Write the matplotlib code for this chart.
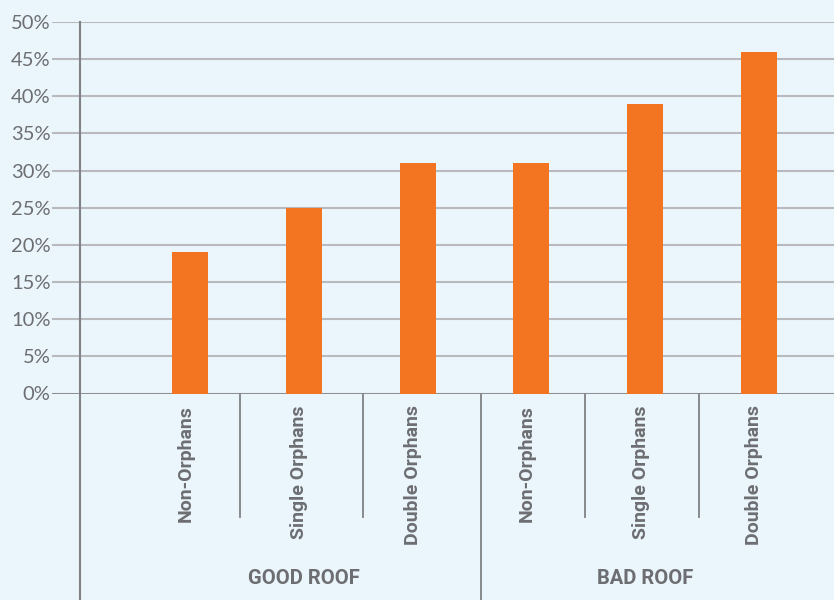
import matplotlib
matplotlib.use("Agg")
import matplotlib.pyplot as plt

# Data
groups = ["GOOD ROOF", "BAD ROOF"]
categories = ["Non-Orphans", "Single Orphans", "Double Orphans"]
good_roof = [19, 25, 31]
bad_roof = [31, 39, 46]
yticks = [0, 5, 10, 15, 20, 25, 30, 35, 40, 45, 50]

bg = "#EAF5FC"
orange = "#F47521"
grid_col = "#B9BABE"
axis_col = "#808285"
text_col = "#6D6E71"

values = good_roof + bad_roof
labels = categories + categories
pos = list(range(len(values)))

fig = plt.figure(figsize=(8.34, 6), dpi=100, facecolor=bg)
ax = fig.add_axes([52 / 834, (600 - 393.5) / 600, 782 / 834, 371.5 / 600])
ax.set_facecolor(bg)

ax.bar(pos, values, width=0.316, color=orange, zorder=3)

ax.set_xlim(-1.2127, 5.659)
ax.set_ylim(0, 50)
ax.set_yticks(yticks)
ax.set_yticklabels([f"{t}%" for t in yticks], family="Lato", fontsize=14.5,
                   color=text_col)
ax.tick_params(axis="y", length=0, pad=1)
ax.set_xticks([])
for s in ax.spines.values():
    s.set_visible(False)
ax.yaxis.grid(True, color=grid_col, lw=1.5, zorder=1)
ax.axhline(0, color=axis_col, lw=1.8, zorder=2)

trans = ax.get_xaxis_transform()
# left axis line, running below the plot
ax.plot([-0.967, -0.967], [1.0, -0.556], color=axis_col, lw=1.5,
        transform=trans, clip_on=False, zorder=4)
# category separators
short_sep = [0.439, 1.520, 3.471, 4.473]
for x in short_sep:
    ax.plot([x, x], [0, -0.332], color=axis_col, lw=1.3,
            transform=trans, clip_on=False)
ax.plot([2.557, 2.557], [0, -0.556], color=axis_col, lw=1.3,
        transform=trans, clip_on=False)

for p, lab in zip(pos, labels):
    ax.text(p - 0.04, -0.031, lab, rotation=90, ha="center", va="top",
            transform=trans, family="Roboto", fontweight="bold",
            fontsize=14, color=text_col)

for g, center in zip(groups, [1, 4]):
    ax.text(center, -0.499, g, ha="center", va="center", transform=trans,
            family="Roboto", fontweight="bold", fontsize=14.5, color=text_col)

fig.savefig("out.png", dpi=100, facecolor=bg)
